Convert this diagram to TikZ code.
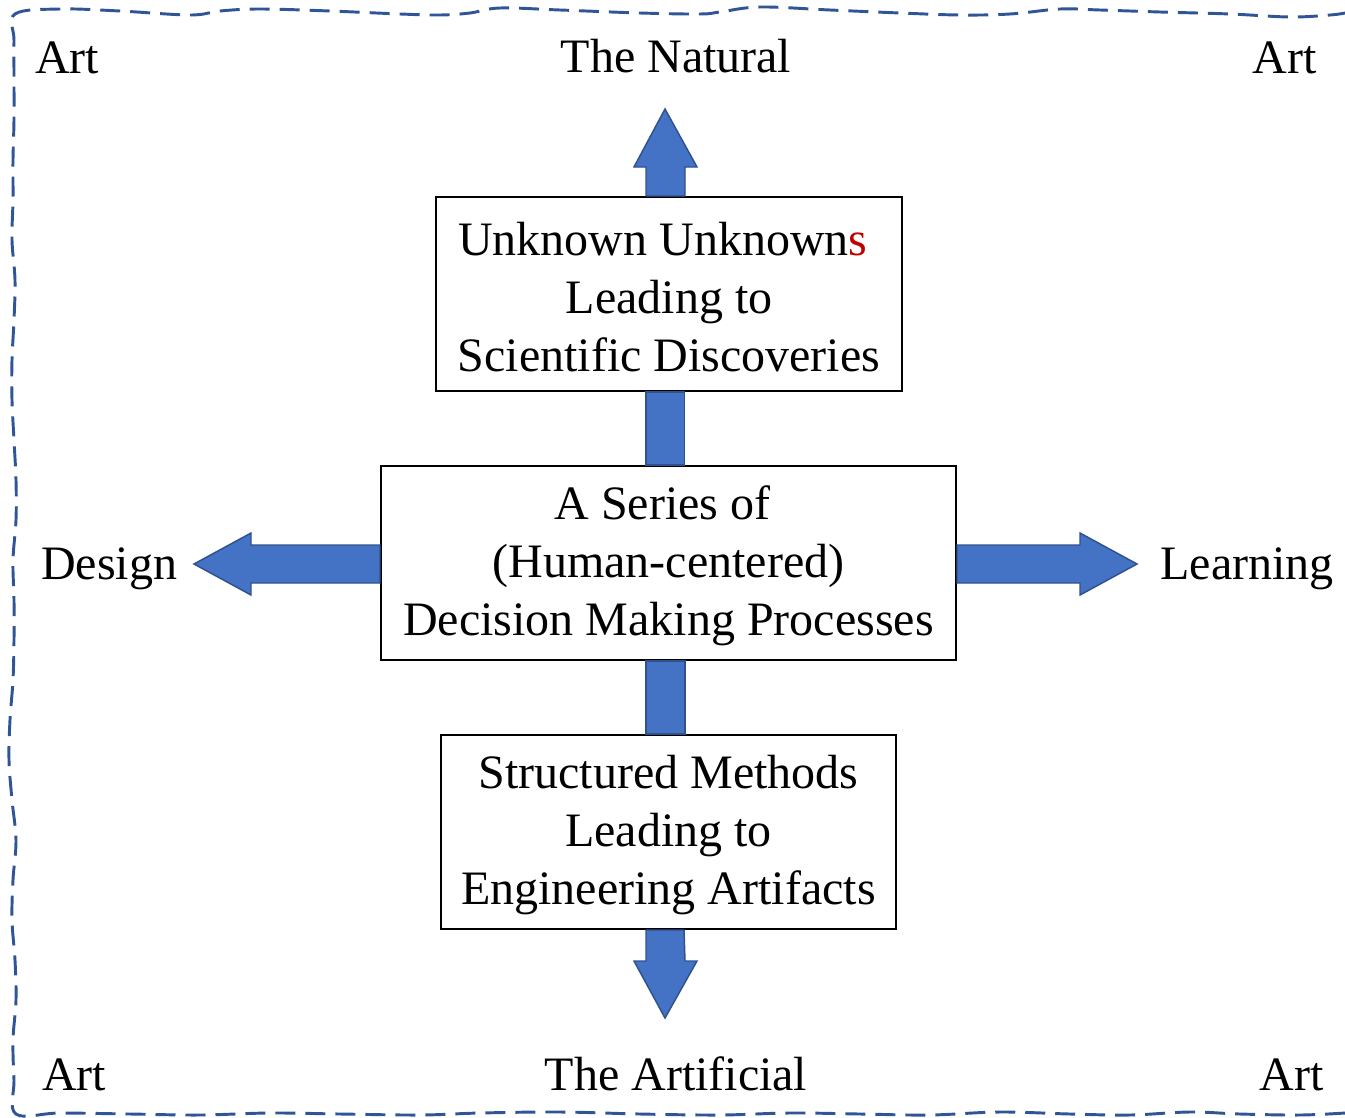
\documentclass[tikz,border=0pt]{standalone}
\usepackage{fontspec}
\setmainfont{Liberation Serif}
\usetikzlibrary{calc}
\definecolor{arrfill}{HTML}{4472C4}
\definecolor{arrdraw}{HTML}{2F528F}
\definecolor{border}{HTML}{2F5597}
\definecolor{redtxt}{HTML}{C00000}
\newcommand\boxstrut{\rule{0pt}{29pt}}
\newcommand\tsp{\hspace*{0.25em}}
\begin{document}
\begin{tikzpicture}[x=0.75pt,y=-0.75pt,
  txt/.style={font=\fontsize{36}{43.5}\selectfont, inner sep=0pt},
  box/.style={draw=black, line width=1.5pt, fill=white, align=center,
    font=\fontsize{36}{43.5}\selectfont, inner sep=0pt},
  blockarrow/.style={fill=arrfill, draw=arrdraw, line width=1.1pt, line join=miter},
  frame/.style={draw=border, line width=2.2pt, dash pattern=on 15pt off 7.5pt}]
\useasboundingbox (0,0) rectangle (1345,1117);
% wavy dashed frame
\draw[frame] plot[smooth, tension=0.6] coordinates {
 (1345,1113) (1300,1115) (1240,1114) (1190,1112) (1130,1115) (1070,1114) (1000,1112)
 (930,1115) (860,1114) (790,1113) (720,1115) (640,1114) (560,1112) (480,1113)
 (420,1115) (340,1114) (270,1113) (200,1115) (130,1114) (60,1113) (16,1114)
 (14,1080) (13,1040) (16,1000) (15,960) (12,920) (13,880) (16,840) (12,800)
 (9,760) (10,720) (13,680) (14,640) (14,600) (13,560) (16,520) (16,480) (14,440) (12,400)
 (12,360) (14,320) (15,280) (12,240) (13,200) (13,160) (14,120) (14,80) (14,40) (15,14)
 (60,9) (120,11) (190,15) (220,11) (260,9) (330,11) (400,14) (440,15) (470,13) (500,8)
 (560,10) (640,13) (700,14) (720,12) (760,7) (830,10) (900,13) (960,15) (1010,14)
 (1060,9) (1100,10) (1160,12) (1230,14) (1290,17) (1330,15) (1345,13)};
% boxes
\node[box, minimum width=466*0.75pt, minimum height=194*0.75pt] (top) at (669,294)
  {\boxstrut Unknown Unknown{\color{redtxt}s}\tsp\\Leading to\tsp\\Scientific Discoveries};
\node[box, minimum width=575*0.75pt, minimum height=194*0.75pt] (mid) at (668.5,563)
  {\boxstrut A Series of\tsp\\(Human-centered)\\Decision Making Processes};
\node[box, minimum width=455*0.75pt, minimum height=194*0.75pt] (bot) at (668.5,832)
  {\boxstrut Structured Methods\\Leading to\tsp\\Engineering Artifacts};
% connectors between boxes
\draw[blockarrow] ($(top.south)+(-23,0)$) rectangle ($(mid.north)+(16,0)$);
\draw[blockarrow] ($(mid.south)+(-22.5,0)$) rectangle ($(bot.north)+(16.5,0)$);
% up arrow
\coordinate (upb) at ($(top.north)+(-4,0)$);
\draw[blockarrow] ($(upb)+(-19,0)$) -- ++(0,-29) -- ++(-12,0) -- ($(upb)+(0,-87)$)
  -- ($(upb)+(32,-29)$) -- ++(-12,0) -- ($(upb)+(20,0)$) -- cycle;
% down arrow
\coordinate (dnb) at ($(bot.south)+(-3.5,0)$);
\draw[blockarrow] ($(dnb)+(-19,0)$) -- ++(0,31) -- ++(-12,0) -- ($(dnb)+(0,88)$)
  -- ($(dnb)+(32,31)$) -- ++(-12,0) -- ($(dnb)+(19,0)$) -- cycle;
% left arrow
\coordinate (lfb) at (mid.west);
\draw[blockarrow] ($(lfb)+(0,-18)$) -- ($(lfb)+(-129,-18)$) -- ($(lfb)+(-129,-30)$)
  -- ($(lfb)+(-186,1)$) -- ($(lfb)+(-129,32)$) -- ($(lfb)+(-129,20)$) -- ($(lfb)+(0,20)$) -- cycle;
% right arrow
\coordinate (rtb) at (mid.east);
\draw[blockarrow] ($(rtb)+(0,-18)$) -- ($(rtb)+(123,-18)$) -- ($(rtb)+(123,-30)$)
  -- ($(rtb)+(180,1)$) -- ($(rtb)+(123,32)$) -- ($(rtb)+(123,20)$) -- ($(rtb)+(0,20)$) -- cycle;
% labels
\node[txt, anchor=base] (nat) at (676,72) {The Natural};
\node[txt, anchor=base] (art) at (676,1090) {The Artificial};
\node[txt, anchor=base west] (des) at (41,579) {Design};
\node[txt, anchor=base east] (lrn) at (1334,579) {Learning};
\node[txt, anchor=base west] (a1) at (35,73) {Art};
\node[txt, anchor=base east] (a2) at (1317,73) {Art};
\node[txt, anchor=base west] (a3) at (42,1090) {Art};
\node[txt, anchor=base east] (a4) at (1324,1090) {Art};
\end{tikzpicture}
\end{document}
